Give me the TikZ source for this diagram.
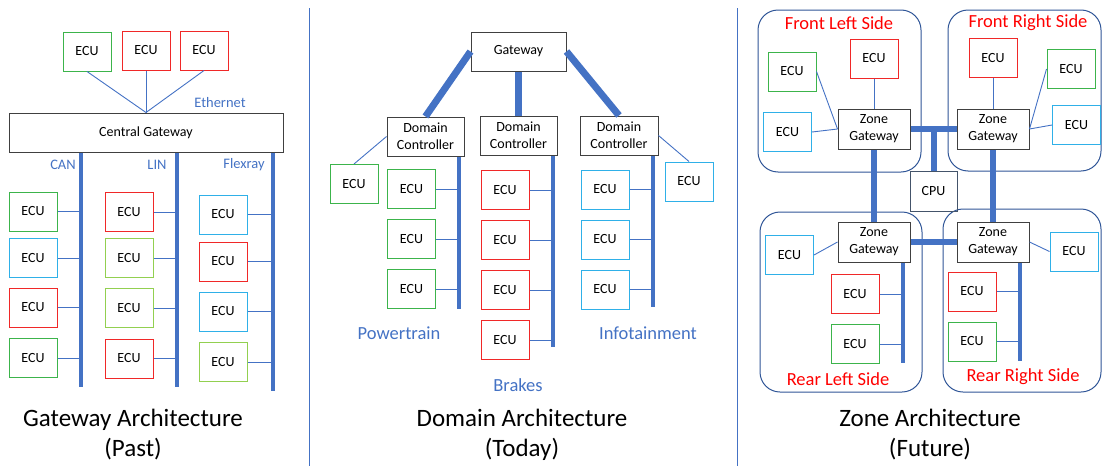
\documentclass[tikz,border=0pt]{standalone}
\usepackage{fontspec}
\setmainfont{Carlito}
\usetikzlibrary{positioning}
\definecolor{ecugreen}{HTML}{3CB44B}
\definecolor{ecured}{HTML}{F02828}
\definecolor{ecublue}{HTML}{2FB0E8}
\definecolor{ecuolive}{HTML}{92D050}
\definecolor{busblue}{HTML}{4472C4}
\definecolor{zoneblue}{HTML}{2F5597}
\definecolor{boxgrey}{HTML}{404040}
\definecolor{cpugrey}{HTML}{44546A}
\begin{document}
\begin{tikzpicture}[x=1pt,y=-1pt,
font=\fontsize{14}{16}\selectfont,
ecu/.style={draw=#1, line width=1pt, minimum width=48pt, minimum height=39pt, inner sep=0pt},
ctrl/.style={draw=boxgrey, line width=1pt, align=center, minimum height=39pt, inner sep=0pt, font=\fontsize{14}{17}\selectfont},
bus/.style={draw=busblue, line width=4.5pt},
link/.style={draw=busblue, line width=7pt},
wire/.style={draw=busblue, line width=0.9pt},
zone/.style={draw=zoneblue, line width=1pt, rounded corners=20pt, inner sep=0pt},
buslabel/.style={text=busblue, font=\fontsize{14.5}{16}\selectfont},
domlabel/.style={text=busblue, font=\fontsize{18.5}{20}\selectfont},
zonelabel/.style={text=red, font=\fontsize{18.5}{20}\selectfont},
title/.style={align=center, font=\fontsize{25}{30}\selectfont}
]
\useasboundingbox (0,0) rectangle (1103,466);

% separators
\coordinate (sepa) at (309,8);
\coordinate (sepb) at (737,8);
\draw[wire] (sepa) -- (sepa |- 0,466);
\draw[wire] (sepb) -- (sepb |- 0,466);

% gateway architecture
\node[ctrl, minimum width=274pt] (cgw) at (146,132.5) {Central Gateway};
\node[ecu=ecugreen] (et1) at (87,51.5) {ECU};
\node[ecu=ecured] (et2) at (146,50.5) {ECU};
\node[ecu=ecured] (et3) at (204,50.5) {ECU};
\draw[wire] (et1.south) -- (cgw.north);
\draw[wire] (et2.south) -- (cgw.north);
\draw[wire] (et3.south) -- (cgw.north);
\node[buslabel] (eth) at (220,103) {Ethernet};

\coordinate (canend) at (81,387);
\coordinate (linend) at (177,387);
\coordinate (frend) at (273,391);
\draw[bus] (cgw.south -| canend) -- (canend);
\draw[bus] (cgw.south -| linend) -- (linend);
\draw[bus] (cgw.south -| frend) -- (frend);
\node[buslabel] (can) at (63,165) {CAN};
\node[buslabel] (lin) at (157,165) {LIN};
\node[buslabel] (flex) at (244,165) {Flexray};

\node[ecu=ecugreen] (ca1) at (33,211.5) {ECU};
\node[ecu=ecublue] (ca2) at (33,258) {ECU};
\node[ecu=ecured] (ca3) at (33,307.5) {ECU};
\node[ecu=ecugreen] (ca4) at (33,358) {ECU};
\node[ecu=ecured] (li1) at (129,212) {ECU};
\node[ecu=ecuolive] (li2) at (129,258) {ECU};
\node[ecu=ecuolive] (li3) at (129,308) {ECU};
\node[ecu=ecured] (li4) at (129,358.5) {ECU};
\node[ecu=ecublue] (fx1) at (223,214.5) {ECU};
\node[ecu=ecured] (fx2) at (223,261.5) {ECU};
\node[ecu=ecublue] (fx3) at (223,311.5) {ECU};
\node[ecu=ecuolive] (fx4) at (223,362) {ECU};
\draw[wire] (ca1.east) -- (ca1.east -| canend);
\draw[wire] (ca2.east) -- (ca2.east -| canend);
\draw[wire] (ca3.east) -- (ca3.east -| canend);
\draw[wire] (ca4.east) -- (ca4.east -| canend);
\draw[wire] (li1.east) -- (li1.east -| linend);
\draw[wire] (li2.east) -- (li2.east -| linend);
\draw[wire] (li3.east) -- (li3.east -| linend);
\draw[wire] (li4.east) -- (li4.east -| linend);
\draw[wire] (fx1.east) -- (fx1.east -| frend);
\draw[wire] (fx2.east) -- (fx2.east -| frend);
\draw[wire] (fx3.east) -- (fx3.east -| frend);
\draw[wire] (fx4.east) -- (fx4.east -| frend);

% domain architecture
\node[ctrl, minimum width=95pt] (gw) at (518.5,51.5) {Gateway};
\node[ctrl, minimum width=77pt] (dc1) at (425.5,136.5) {Domain\\Controller};
\node[ctrl, minimum width=77pt] (dc2) at (518.5,135.5) {Domain\\Controller};
\node[ctrl, minimum width=78pt] (dc3) at (619,135.5) {Domain\\Controller};
\draw[link] (gw.west) -- (dc1.north);
\draw[link] (gw.south) -- (dc2.north);
\draw[link] (gw.east) -- (dc3.north);

\coordinate (ptend) at (459,309);
\coordinate (brend) at (553,347);
\coordinate (inend) at (653,307);
\draw[bus] (dc1.south -| ptend) -- (ptend);
\draw[bus] (dc2.south -| brend) -- (brend);
\draw[bus] (dc3.south -| inend) -- (inend);

\node[ecu=ecugreen] (pt0) at (354,184) {ECU};
\node[ecu=ecugreen] (pt1) at (411.5,189) {ECU};
\node[ecu=ecugreen] (pt2) at (411.5,239) {ECU};
\node[ecu=ecugreen] (pt3) at (411.5,289) {ECU};
\node[ecu=ecured] (br1) at (505,190) {ECU};
\node[ecu=ecured] (br2) at (505,240) {ECU};
\node[ecu=ecured] (br3) at (505,290) {ECU};
\node[ecu=ecured] (br4) at (505,340) {ECU};
\node[ecu=ecublue] (in1) at (605,189.5) {ECU};
\node[ecu=ecublue] (in2) at (605,239.5) {ECU};
\node[ecu=ecublue] (in3) at (605,289.5) {ECU};
\node[ecu=ecublue] (in0) at (689,181.5) {ECU};
\draw[wire] (pt0.north) -- (dc1.west);
\draw[wire] (in0.north) -- (dc3.east);
\draw[wire] (pt1.east) -- (pt1.east -| ptend);
\draw[wire] (pt2.east) -- (pt2.east -| ptend);
\draw[wire] (pt3.east) -- (pt3.east -| ptend);
\draw[wire] (br1.east) -- (br1.east -| brend);
\draw[wire] (br2.east) -- (br2.east -| brend);
\draw[wire] (br3.east) -- (br3.east -| brend);
\draw[wire] (br4.east) -- (br4.east -| brend);
\draw[wire] (in1.east) -- (in1.east -| inend);
\draw[wire] (in2.east) -- (in2.east -| inend);
\draw[wire] (in3.east) -- (in3.east -| inend);

\node[domlabel] (pwt) at (399,333) {Powertrain};
\node[domlabel] (brk) at (518,385) {Brakes};
\node[domlabel] (inf) at (648,333) {Infotainment};

% zone architecture
\node[zone, minimum width=163pt, minimum height=162pt] (fl) at (839.5,91) {};
\node[zone, minimum width=153pt, minimum height=161pt] (fr) at (1024.5,90.5) {};
\node[zone, minimum width=162pt, minimum height=180pt] (rl) at (841,302) {};
\node[zone, minimum width=158pt, minimum height=183pt] (rr) at (1022,300.5) {};
\node[zonelabel] (fllbl) at (839,23) {Front Left Side};
\node[zonelabel] (frlbl) at (1028,23) {Front Right Side};
\node[zonelabel] (rllbl) at (838,379) {Rear Left Side};
\node[zonelabel] (rrlbl) at (1023,377) {Rear Right Side};

\node[ctrl, minimum width=72pt, minimum height=40pt] (flzg) at (874,129) {Zone\\Gateway};
\node[ctrl, minimum width=72pt, minimum height=40pt] (frzg) at (993,129) {Zone\\Gateway};
\node[ctrl, minimum width=72pt, minimum height=40pt] (rlzg) at (874,242) {Zone\\Gateway};
\node[ctrl, minimum width=72pt, minimum height=40pt] (rrzg) at (993,242) {Zone\\Gateway};
\node[ctrl, draw=cpugrey, minimum width=47pt, minimum height=40pt] (cpu) at (933.5,191) {CPU};

\draw[link, line width=6pt] (flzg.east) -- (frzg.west);
\draw[link, line width=6pt] (rlzg.east) -- (rrzg.west);
\draw[link, line width=6pt] (cpu.north) -- (cpu.north |- flzg.east);
\draw[link, line width=6pt] (flzg.south) -- (rlzg.north);
\draw[link, line width=6pt] (frzg.south) -- (rrzg.north);

\node[ecu=ecugreen] (fl1) at (792,71.5) {ECU};
\node[ecu=ecured] (fl2) at (874,58.5) {ECU};
\node[ecu=ecublue] (fl3) at (787.5,132) {ECU};
\draw[wire] (fl1.east) -- (flzg.west);
\draw[wire] (fl2.south) -- (flzg.north);
\draw[wire] (fl3.east) -- (flzg.west);

\node[ecu=ecured] (fr1) at (993,58) {ECU};
\node[ecu=ecugreen] (fr2) at (1071,69) {ECU};
\node[ecu=ecublue] (fr3) at (1076.5,125) {ECU};
\draw[wire] (fr1.south) -- (frzg.north);
\draw[wire] (fr2.west) -- (frzg.east);
\draw[wire] (fr3.west) -- (frzg.east);

\coordinate (rlend) at (903,363);
\coordinate (rrend) at (1020,361);
\draw[bus, line width=4pt] (rlzg.south -| rlend) -- (rlend);
\draw[bus, line width=4pt] (rrzg.south -| rrend) -- (rrend);

\node[ecu=ecublue] (rl1) at (789.5,255) {ECU};
\node[ecu=ecured] (rl2) at (855,294) {ECU};
\node[ecu=ecugreen] (rl3) at (855,344) {ECU};
\draw[wire] (rl1.east) -- (rlzg.west);
\draw[wire] (rl2.east) -- (rl2.east -| rlend);
\draw[wire] (rl3.east) -- (rl3.east -| rlend);

\node[ecu=ecublue] (rr1) at (1074,251.5) {ECU};
\node[ecu=ecured] (rr2) at (972,291.5) {ECU};
\node[ecu=ecugreen] (rr3) at (972,341.5) {ECU};
\draw[wire] (rr1.west) -- (rrzg.east);
\draw[wire] (rr2.east) -- (rr2.east -| rrend);
\draw[wire] (rr3.east) -- (rr3.east -| rrend);

% titles
\node[title] (t1) at (133,435) {Gateway Architecture\\(Past)};
\node[title] (t2) at (522,435) {Domain Architecture\\(Today)};
\node[title] (t3) at (930,435) {Zone Architecture\\(Future)};
\end{tikzpicture}
\end{document}
